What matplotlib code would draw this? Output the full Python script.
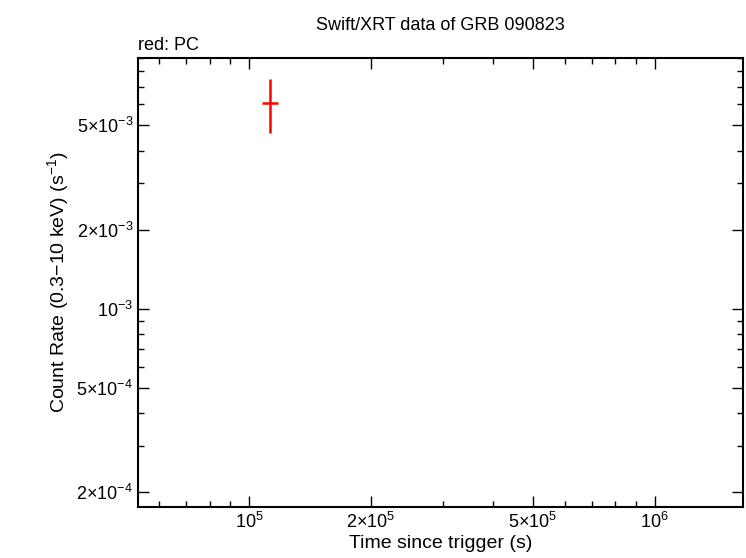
import matplotlib
matplotlib.use('Agg')
import matplotlib.pyplot as plt
from matplotlib.ticker import FixedLocator, FixedFormatter, LogLocator, NullFormatter

plt.rcParams['font.family'] = ['Liberation Sans', 'DejaVu Sans']
plt.rcParams['mathtext.fontset'] = 'custom'
plt.rcParams['mathtext.rm'] = 'Liberation Sans'
plt.rcParams['mathtext.it'] = 'Liberation Sans'

# PC data point
pc_time = [1.126e5]
pc_time_lo = [1.076e5]
pc_time_hi = [1.178e5]
pc_rate = [6.07e-3]
pc_rate_lo = [4.67e-3]
pc_rate_hi = [7.5e-3]

xticks = [1e5, 2e5, 5e5, 1e6]
xticklabels = [r'$\mathrm{10^5}$', r'$\mathrm{2{\times}10^5}$', r'$\mathrm{5{\times}10^5}$', r'$\mathrm{10^6}$']
yticks = [2e-4, 5e-4, 1e-3, 2e-3, 5e-3]
yticklabels = [r'$\mathrm{2{\times}10^{-4}}$', r'$\mathrm{5{\times}10^{-4}}$', r'$\mathrm{10^{-3}}$',
               r'$\mathrm{2{\times}10^{-3}}$', r'$\mathrm{5{\times}10^{-3}}$']

fig = plt.figure(figsize=(7.46, 5.58), dpi=100)
ax = fig.add_axes([138/746, 1 - 507/558, (743-138)/746, (507-58)/558])
ax.set_xscale('log')
ax.set_yscale('log')
ax.set_xlim(5.33e4, 1.65e6)
ax.set_ylim(1.76e-4, 9.0e-3)

xerr = [[t - lo for t, lo in zip(pc_time, pc_time_lo)],
        [hi - t for t, hi in zip(pc_time, pc_time_hi)]]
yerr = [[r - lo for r, lo in zip(pc_rate, pc_rate_lo)],
        [hi - r for r, hi in zip(pc_rate, pc_rate_hi)]]
ax.errorbar(pc_time, pc_rate, xerr=xerr, yerr=yerr, fmt='none', ecolor='red',
            elinewidth=1.8, capsize=0)

ax.xaxis.set_major_locator(FixedLocator(xticks))
ax.xaxis.set_major_formatter(FixedFormatter(xticklabels))
ax.xaxis.set_minor_locator(LogLocator(subs='all'))
ax.xaxis.set_minor_formatter(NullFormatter())
ax.yaxis.set_major_locator(FixedLocator(yticks))
ax.yaxis.set_major_formatter(FixedFormatter(yticklabels))
ax.yaxis.set_minor_locator(LogLocator(subs='all'))
ax.yaxis.set_minor_formatter(NullFormatter())

ax.tick_params(which='both', direction='in', top=True, right=True, labelsize=13)
ax.tick_params(which='major', length=8, width=1)
ax.tick_params(which='minor', length=4, width=1)
for s in ax.spines.values():
    s.set_linewidth(1.5)

ax.set_xlabel('Time since trigger (s)', fontsize=14, labelpad=2)
ax.set_ylabel(r'Count Rate (0.3$\mathrm{-}$10 keV) (s$^{\mathrm{-1}}$)', fontsize=14)
ax.set_title('Swift/XRT data of GRB 090823', fontsize=13, pad=20)
ax.text(0, 1.01, 'red: PC', transform=ax.transAxes, fontsize=13, va='bottom')

fig.savefig('out.png', dpi=100)
